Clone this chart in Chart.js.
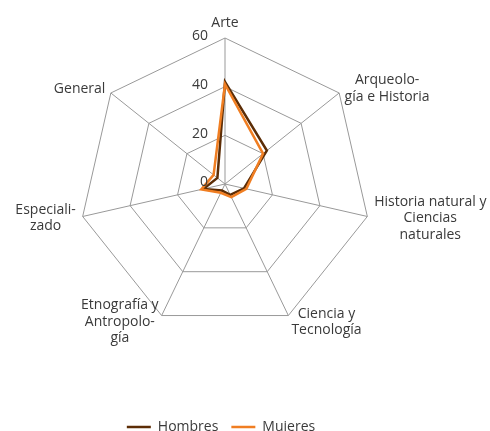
<!DOCTYPE html>
<html lang="es">
  <head>
    <meta charset="UTF-8" />
    <title>Museos - radar</title>
    <script src="https://cdn.jsdelivr.net/npm/chart.js"></script>
    <style>
      html, body { margin: 0; padding: 0; background: #fff; overflow: hidden; }
      #wrap { width: 490px; height: 444px; position: relative; }
    </style>
  </head>
  <body>
    <div id="wrap"><canvas id="radarChart"></canvas></div>

    <script>
      const categories = [
        "Arte",
        ["Arqueolo-", "gía e Historia"],
        ["Historia natural y", "Ciencias", "naturales"],
        ["Ciencia y", "Tecnología"],
        ["Etnografía y", "Antropolo-", "gía"],
        ["Especiali-", "zado"],
        "General"
      ];
      const hombres = [42, 22, 8, 5, 3, 9, 4];
      const mujeres = [41, 20, 9, 6, 4, 10, 6];
      const tickValues = [0, 20, 40, 60];

      const FONT = "'Open Sans', sans-serif";
      const TEXT = "#3a3a3a";
      const LINE_H = 16.5;

      // tick numbers sit left of the axis; category labels are centred line by line
      const labelsPlugin = {
        id: "labelsPlugin",
        afterDraw(chart) {
          const r = chart.scales.r;
          const ctx = chart.ctx;
          ctx.save();
          ctx.font = "14px " + FONT;
          ctx.fillStyle = TEXT;
          ctx.textAlign = "right";
          ctx.textBaseline = "middle";
          tickValues.forEach((v) => {
            const d = r.getDistanceFromCenterForValue(v);
            ctx.fillText(String(v), r.xCenter - 17, r.yCenter - d - 1.5);
          });

          ctx.textAlign = "center";
          categories.forEach((lab, i) => {
            const lines = Array.isArray(lab) ? lab : [lab];
            const p = r.getPointPosition(i, r.drawingArea + 7);
            const w = Math.max(...lines.map((t) => ctx.measureText(t).width));
            let cx = p.x;
            if (p.x > r.xCenter + 1) cx = p.x + w / 2;
            else if (p.x < r.xCenter - 1) cx = p.x - w / 2;
            let cy = p.y;
            if (Math.abs(p.x - r.xCenter) <= 1) cy = p.y - (lines.length * LINE_H) / 2;
            lines.forEach((t, j) => {
              ctx.fillText(t, cx, cy + (j - (lines.length - 1) / 2) * LINE_H);
            });
          });
          ctx.restore();
        },
      };

      new Chart(document.getElementById("radarChart"), {
        type: "radar",
        data: {
          labels: categories,
          datasets: [
            {
              label: "Hombres",
              data: hombres,
              borderColor: "#5c2d06",
              backgroundColor: "#5c2d06",
              borderWidth: 2.5,
              fill: false,
              pointRadius: 0,
              pointStyle: "line",
              order: 2,
            },
            {
              label: "Mujeres",
              data: mujeres,
              borderColor: "#f07e22",
              backgroundColor: "#f07e22",
              borderWidth: 2.5,
              fill: false,
              pointRadius: 0,
              pointStyle: "line",
              order: 1,
            },
          ],
        },
        options: {
          responsive: true,
          maintainAspectRatio: false,
          animation: false,
          layout: { padding: { right: 48 } },
          scales: {
            r: {
              min: 0,
              max: 60,
              ticks: { stepSize: 20, display: false },
              grid: { color: "#999", lineWidth: 1 },
              angleLines: { color: "#999", lineWidth: 1 },
              pointLabels: { display: false },
              afterFit(scale) {
                scale.xCenter = 225;
                scale.yCenter = 184;
                scale.drawingArea = 146;
              },
            },
          },
          plugins: {
            legend: {
              position: "bottom",
              labels: {
                usePointStyle: true,
                pointStyleWidth: 24,
                font: { family: FONT, size: 14 },
                color: TEXT,
                padding: 13,
                sort: (a, b) => a.datasetIndex - b.datasetIndex,
              },
            },
            tooltip: { enabled: false },
          },
        },
        plugins: [labelsPlugin],
      });
    </script>
  </body>
</html>
